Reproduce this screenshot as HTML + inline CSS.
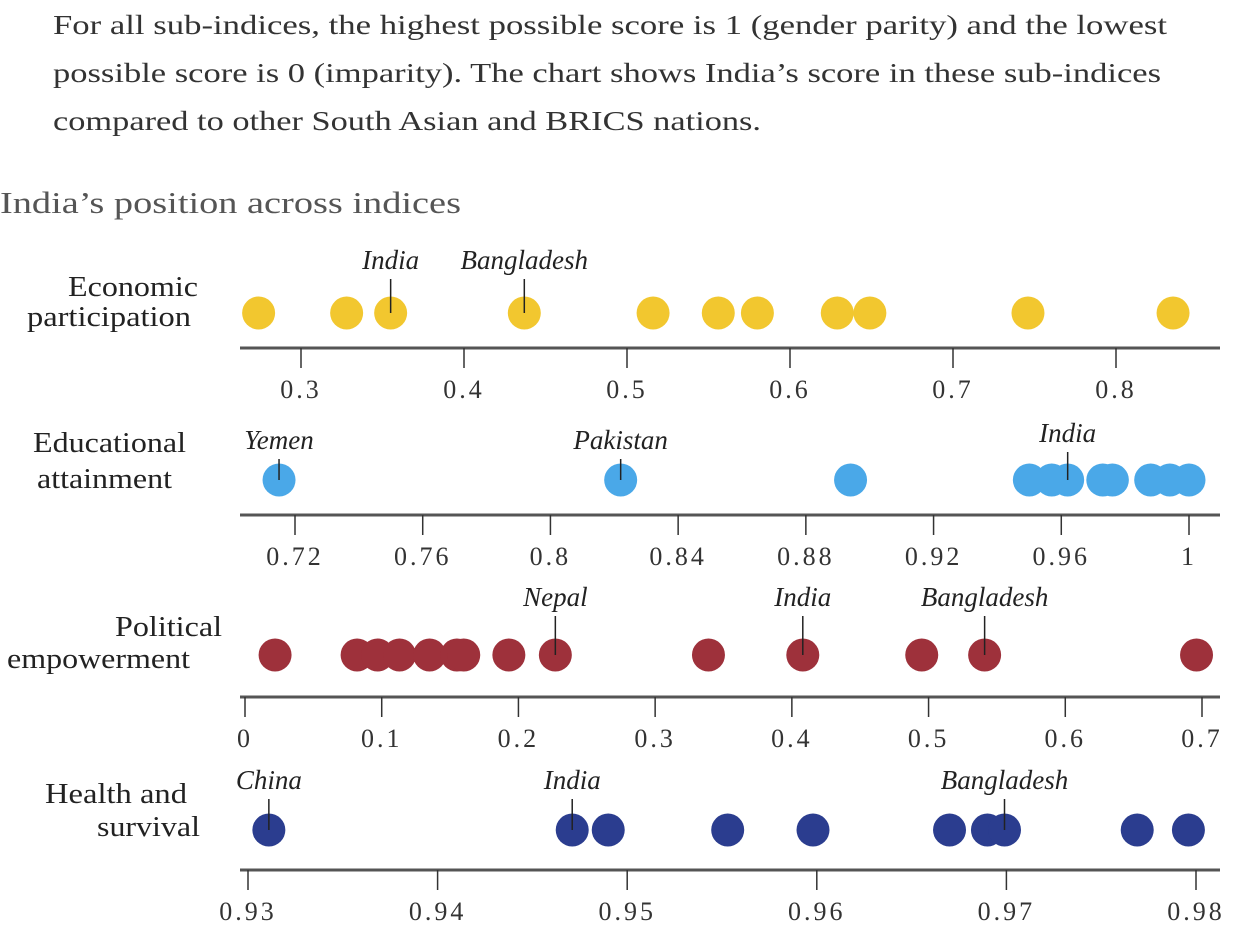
<!DOCTYPE html>
<html><head><meta charset="utf-8">
<style>
html,body{margin:0;padding:0;background:#fff;}
svg{display:block;font-family:"Liberation Serif",serif;}
</style></head>
<body>
<svg id="chart" width="1235" height="951" viewBox="0 0 1235 951" xmlns="http://www.w3.org/2000/svg">
<g fill="#333" font-size="27">
<text x="53" y="34" textLength="1114" lengthAdjust="spacingAndGlyphs">For all sub-indices, the highest possible score is 1 (gender parity) and the lowest</text>
<text x="53" y="82" textLength="1108" lengthAdjust="spacingAndGlyphs">possible score is 0 (imparity). The chart shows India’s score in these sub-indices</text>
<text x="53" y="130" textLength="708" lengthAdjust="spacingAndGlyphs">compared to other South Asian and BRICS nations.</text>
</g>
<text x="0" y="213" font-size="31" fill="#555" textLength="461" lengthAdjust="spacingAndGlyphs">India’s position across indices</text>
<g id="rows"></g>
</svg>
<script>
// Economic participation
const econValues = [0.274, 0.328, 0.355, 0.437, 0.516, 0.556, 0.580, 0.629, 0.649, 0.746, 0.835];
const econTicks = [0.3, 0.4, 0.5, 0.6, 0.7, 0.8];
const econTickLabels = ["0.3","0.4","0.5","0.6","0.7","0.8"];
const econLabels = [["India",0.355],["Bangladesh",0.437]];
// Educational attainment
const eduValues = [0.715, 0.822, 0.894, 0.950, 0.957, 0.962, 0.973, 0.976, 0.988, 0.994, 1.0];
const eduTicks = [0.72, 0.76, 0.8, 0.84, 0.88, 0.92, 0.96, 1];
const eduTickLabels = ["0.72","0.76","0.8","0.84","0.88","0.92","0.96","1"];
const eduLabels = [["Yemen",0.715],["Pakistan",0.822],["India",0.962]];
// Political empowerment
const polValues = [0.022, 0.082, 0.097, 0.113, 0.135, 0.155, 0.160, 0.193, 0.227, 0.339, 0.408, 0.495, 0.541, 0.696];
const polTicks = [0, 0.1, 0.2, 0.3, 0.4, 0.5, 0.6, 0.7];
const polTickLabels = ["0","0.1","0.2","0.3","0.4","0.5","0.6","0.7"];
const polLabels = [["Nepal",0.227],["India",0.408],["Bangladesh",0.541]];
// Health and survival
const healthValues = [0.9311, 0.9471, 0.9490, 0.9553, 0.9598, 0.9670, 0.9690, 0.9699, 0.9769, 0.9796];
const healthTicks = [0.93, 0.94, 0.95, 0.96, 0.97, 0.98];
const healthTickLabels = ["0.93","0.94","0.95","0.96","0.97","0.98"];
const healthLabels = [["China",0.9311],["India",0.9471],["Bangladesh",0.9699]];

const NS = "http://www.w3.org/2000/svg";
const root = document.getElementById("rows");
function mk(tag, attrs, parent){const e=document.createElementNS(NS,tag);for(const k in attrs)e.setAttribute(k,attrs[k]);parent.appendChild(e);return e;}

const rows = [
 {key:"economic-participation", values:econValues, ticks:econTicks, tl:econTickLabels, labels:econLabels, color:"#f2c72f", d0:0.3,d1:0.8,r0:301,r1:1116, dotY:313, axisY:348, labY:[269,269,269],
  title:[["Economic",68,296,130],["participation",27,326,164]]},
 {key:"educational-attainment", values:eduValues, ticks:eduTicks, tl:eduTickLabels, labels:eduLabels, color:"#4aa8e8", d0:0.72,d1:1,r0:295,r1:1189, dotY:480, axisY:515, labY:[449,449,442],
  title:[["Educational",33,452,153],["attainment",37,488,135]]},
 {key:"political-empowerment", values:polValues, ticks:polTicks, tl:polTickLabels, labels:polLabels, color:"#9e313b", d0:0,d1:0.7,r0:245,r1:1202, dotY:655, axisY:697, labY:[606,606,606],
  title:[["Political",115,636,107],["empowerment",7,668,183]]},
 {key:"health-and-survival", values:healthValues, ticks:healthTicks, tl:healthTickLabels, labels:healthLabels, color:"#2b3d8f", d0:0.93,d1:0.98,r0:248,r1:1196, dotY:830, axisY:870, labY:[789,789,789],
  title:[["Health and",45,803,142],["survival",97,836,103]]}
];

rows.forEach(function(r){
  const g = mk("g",{},root);
  
  
  const sx = v => r.r0 + (v - r.d0) * (r.r1 - r.r0) / (r.d1 - r.d0);
  r.title.forEach(function(t){
    const e = mk("text",{x:t[1],y:t[2],"font-size":29,fill:"#222",textLength:t[3],lengthAdjust:"spacingAndGlyphs"},g);
    e.textContent = t[0];
    
    
  });
  const ax = mk("line",{x1:240,x2:1220,y1:r.axisY,y2:r.axisY,stroke:"#555","stroke-width":3},g);
  
  
  r.ticks.forEach(function(t,i){
    const x = sx(t);
    const tk = mk("line",{x1:x,x2:x,y1:r.axisY,y2:r.axisY+20,stroke:"#333","stroke-width":1.5},g);
    
    
    const lb = mk("text",{x:x,y:r.axisY+50,"font-size":26,fill:"#333","text-anchor":"middle","letter-spacing":"3"},g);
    lb.textContent = r.tl[i];
    
    
  });
  r.values.forEach(function(v){
    const c = mk("circle",{cx:sx(v),cy:r.dotY,r:16.5,fill:r.color},g);
    
    
  });
  r.labels.forEach(function(l,i){
    const x = sx(l[1]);
    const ly = r.labY[i];
    const ln = mk("line",{x1:x,x2:x,y1:ly+10,y2:r.dotY,stroke:"#222","stroke-width":1.5},g);
    
    
    const t = mk("text",{x:x,y:ly,"font-size":27,"font-style":"italic",fill:"#222","text-anchor":"middle"},g);
    t.textContent = l[0];
    
    
  });
});
</script>
</body></html>
